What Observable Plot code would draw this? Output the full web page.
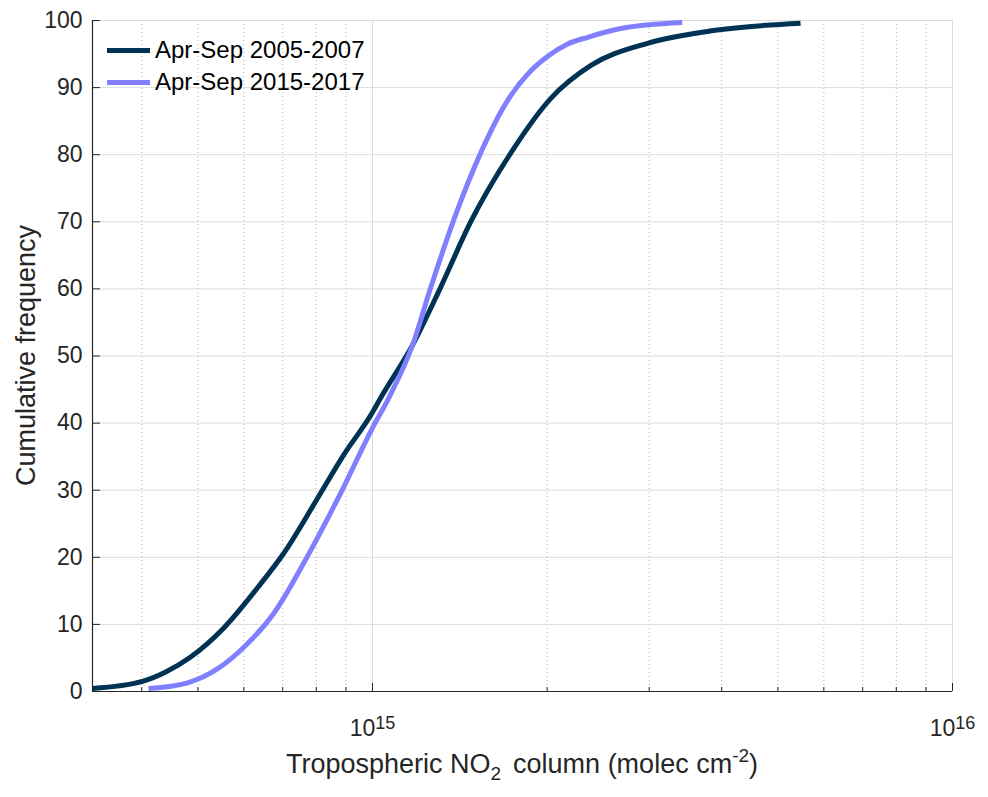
<!DOCTYPE html>
<html>
<head>
<meta charset="utf-8">
<script src="https://cdn.jsdelivr.net/npm/d3@7"></script>
<script src="https://cdn.jsdelivr.net/npm/@observablehq/plot@0.6"></script>
<style>
  body { margin: 0; background: #fff; }
  #wrap { position: relative; width: 988px; height: 797px; font-family: "Liberation Sans", Arial, Helvetica, sans-serif; }
  #legend { position: absolute; left: 107px; top: 34px; font-size: 24px; color: #000; }
  .row { display: flex; align-items: center; height: 32px; white-space: nowrap; }
  .sw { width: 43px; height: 5px; margin-right: 5px; }
</style>
</head>
<body>
<div id="wrap"><div id="chart"></div><div id="legend"></div></div>
<script>
// ---- data ----
const seriesNames = ["Apr-Sep 2005-2007", "Apr-Sep 2015-2017"];
const seriesColors = ["#003253", "#8080ff"];

const x2005 = [3.29e14, 4.01e14, 4.40e14, 4.85e14, 5.53e14, 6.34e14, 7.03e14, 8.04e14, 8.91e14, 1.0e15, 1.032e15, 1.172e15, 1.31e15, 1.475e15, 1.73e15, 2.03e15, 2.38e15, 2.98e15, 3.87e15, 5.47e15];
const y2005 = [0.45, 1.5, 2.9, 5.1, 9.4, 15.5, 20.6, 28.8, 35.2, 41.6, 43.7, 51.6, 60.2, 69.9, 80.2, 88.4, 93.3, 96.6, 98.5, 99.6];

const x2015 = [4.11e14, 4.80e14, 5.41e14, 6.0e14, 6.75e14, 7.82e14, 8.91e14, 1.0e15, 1.066e15, 1.172e15, 1.26e15, 1.40e15, 1.535e15, 1.71e15, 1.87e15, 2.0e15, 2.17e15, 2.35e15, 2.68e15, 3.42e15];
const y2015 = [0.45, 1.3, 3.4, 6.6, 11.6, 21.0, 30.4, 39.3, 43.7, 51.6, 60.2, 71.7, 80.2, 88.1, 92.4, 94.6, 96.5, 97.5, 98.8, 99.7];

const xDomain = [3.29e14, 1e16];
const yDomain = [0, 100];
const xMajorTicks = [1e15, 1e16];
const xMinorTicks = [4e14, 5e14, 6e14, 7e14, 8e14, 9e14, 2e15, 3e15, 4e15, 5e15, 6e15, 7e15, 8e15, 9e15];
const yTicks = [0, 10, 20, 30, 40, 50, 60, 70, 80, 90, 100];
const xTitle = ["Tropospheric NO", "2", "column (molec cm", "-2", ")"];
const yTitle = "Cumulative frequency";

// ---- build table ----
const data = [
  ...x2005.map((x, i) => ({x, y: y2005[i], s: seriesNames[0]})),
  ...x2015.map((x, i) => ({x, y: y2015[i], s: seriesNames[1]}))
];

const axisColor = "#262626";
const font = "'Liberation Sans', Arial, Helvetica, sans-serif";

const chart = Plot.plot({
  width: 988,
  height: 797,
  marginLeft: 92,
  marginRight: 36,
  marginTop: 20,
  marginBottom: 106,
  style: {fontFamily: font, background: "white", color: axisColor},
  x: {type: "log", domain: xDomain, label: null},
  y: {domain: yDomain, label: null},
  color: {domain: seriesNames, range: seriesColors},
  marks: [
    Plot.ruleX(xMinorTicks, {stroke: "#b0b0b0", strokeDasharray: "1,3", strokeWidth: 1}),
    Plot.ruleX(xMajorTicks, {stroke: "#dcdcdc", strokeWidth: 1}),
    Plot.ruleY(yTicks, {stroke: "#dcdcdc", strokeWidth: 1}),
    Plot.line(data, {x: "x", y: "y", z: "s", stroke: "s", strokeWidth: 5, curve: "monotone-x", strokeLinecap: "butt", strokeLinejoin: "round"}),
    Plot.ruleX([xDomain[0]], {stroke: axisColor, strokeWidth: 1.2}),
    Plot.ruleY([yDomain[0]], {stroke: axisColor, strokeWidth: 1.2}),
    Plot.axisY({ticks: yTicks, tickSize: 0, tickPadding: 10, fontSize: 23, label: null, fill: axisColor}),
    Plot.axisY({ticks: yTicks, tickSize: -8, fill: "none", label: null, stroke: axisColor}),
    Plot.axisX({ticks: xMajorTicks, tickSize: 0, tickPadding: 28, fontSize: 23, label: null, fill: axisColor,
      tickFormat: d => "10^" + Math.round(Math.log10(d))}),
    Plot.axisX({ticks: xMajorTicks, tickSize: -8, fill: "none", label: null, stroke: axisColor}),
    Plot.axisX({ticks: xMinorTicks, tickSize: -4, fill: "none", label: null, stroke: axisColor})
  ]
});

document.getElementById("chart").appendChild(chart);

// superscript tick labels
d3.select(chart).selectAll('g[aria-label="x-axis tick label"] text').each(function() {
  const t = d3.select(this);
  const parts = t.text().split("^");
  if (parts.length !== 2) return;
  t.text(null);
  t.append("tspan").text(parts[0]);
  t.append("tspan").attr("dy", "-0.4em").attr("font-size", 18).text(parts[1]);
});

const sx = chart.scale("x"), sy = chart.scale("y");
const cx = (sx.range[0] + sx.range[1]) / 2;
const cy = (sy.range[0] + sy.range[1]) / 2;
const svg = d3.select(chart);

const xt = svg.append("text")
  .attr("x", cx).attr("y", 773)
  .attr("text-anchor", "middle")
  .attr("font-size", 27).attr("fill", axisColor).attr("font-family", font);
xt.append("tspan").text(xTitle[0]);
xt.append("tspan").attr("font-size", 19).attr("dy", 7).text(xTitle[1]);
xt.append("tspan").attr("dy", -7).attr("dx", 12).text(xTitle[2]);
xt.append("tspan").attr("font-size", 19).attr("dy", -11).text(xTitle[3]);
xt.append("tspan").attr("dy", 11).text(xTitle[4]);

svg.append("text")
  .attr("transform", `translate(35,${cy}) rotate(-90)`)
  .attr("text-anchor", "middle")
  .attr("font-size", 27).attr("fill", axisColor).attr("font-family", font)
  .text(yTitle);

// legend
const legend = d3.select("#legend");
seriesNames.forEach((n, i) => {
  const r = legend.append("div").attr("class", "row");
  r.append("div").attr("class", "sw").style("background", seriesColors[i]);
  r.append("span").text(n);
});
</script>
</body>
</html>
